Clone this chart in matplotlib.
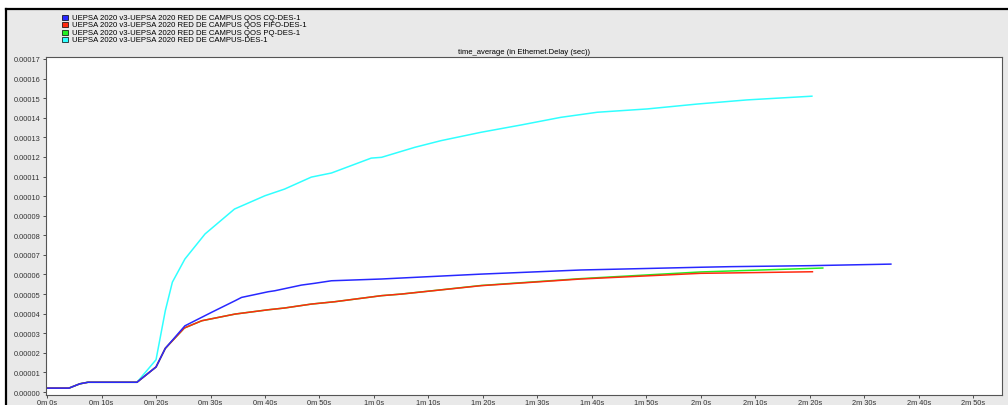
import matplotlib
matplotlib.use("Agg")
from matplotlib import pyplot as plt
from matplotlib.patches import Rectangle

plt.rcParams["font.family"] = ["Liberation Sans", "DejaVu Sans"]

# series labels (OPNET export)
labels = [
    "UEPSA 2020 v3-UEPSA 2020 RED DE CAMPUS QOS CQ-DES-1",
    "UEPSA 2020 v3-UEPSA 2020 RED DE CAMPUS QOS FIFO-DES-1",
    "UEPSA 2020 v3-UEPSA 2020 RED DE CAMPUS QOS PQ-DES-1",
    "UEPSA 2020 v3-UEPSA 2020 RED DE CAMPUS-DES-1",
]
colors = ["#2828ff", "#ff2a10", "#22ee22", "#30ffff"]

# time (s) and delay (in units of 1e-5 s)
t_cq = [0, 4, 6, 7.5, 16.5, 20, 21.7, 25.3, 30.2, 34.5, 35.7, 40.6, 41.8, 46.7,
        49.1, 52.2, 61.4, 65, 79.7, 98, 120, 125.5, 140, 154.9]
v_cq = [0.2, 0.2, 0.42, 0.5, 0.5, 1.28, 2.23, 3.38, 4.07, 4.66, 4.83, 5.12, 5.17, 5.46,
        5.55, 5.68, 5.77, 5.82, 6.02, 6.23, 6.37, 6.40, 6.45, 6.53]

t_fifo = [0, 4, 6, 7.5, 16.5, 20, 21.7, 25.2, 28.4, 34.5, 40.6, 43.6, 48.5, 52.8,
          61.4, 65, 79.7, 98, 120, 125.5, 140.5]
v_fifo = [0.2, 0.2, 0.42, 0.5, 0.5, 1.28, 2.23, 3.27, 3.64, 3.98, 4.2, 4.29, 4.49, 4.61,
          4.92, 5.0, 5.43, 5.77, 6.06, 6.08, 6.14]

t_pq = [0, 4, 6, 7.5, 16.5, 20, 21.7, 25.2, 28.4, 34.5, 40.6, 43.6, 48.5, 52.8,
        61.4, 65, 79.7, 98, 120, 125.5, 142.4]
v_pq = [0.2, 0.2, 0.42, 0.5, 0.5, 1.28, 2.23, 3.27, 3.64, 3.98, 4.2, 4.29, 4.49, 4.61,
        4.92, 5.0, 5.44, 5.79, 6.13, 6.18, 6.33]

t_base = [0, 4, 6, 7.5, 16.5, 20, 21.7, 23, 25.3, 29, 34.4, 40, 43.6, 48.5, 52.2,
          59.5, 61.4, 67.5, 72.3, 79.7, 87, 94.3, 101, 110.2, 119.4, 128.5, 140.4]
v_base = [0.2, 0.2, 0.42, 0.5, 0.5, 1.65, 4.15, 5.61, 6.79, 8.07, 9.34, 10.02, 10.36,
          10.97, 11.18, 11.94, 11.98, 12.49, 12.83, 13.26, 13.63, 14.02, 14.28, 14.45,
          14.70, 14.91, 15.10]

yticks = [i * 1e-5 for i in range(18)]
xticks = list(range(0, 171, 10))
xticklabels = [f"{s // 60}m {s % 60}s" for s in xticks]

W, H = 1008, 406
fig = plt.figure(figsize=(W / 100, H / 100), dpi=100)
fig.patch.set_facecolor("#e9e9e9")

# white margin on top/left, black frame line
fig.patches.append(Rectangle((0, 1 - 10 / H), 1, 10 / H, transform=fig.transFigure,
                             facecolor="white", edgecolor="none", zorder=-10))
fig.patches.append(Rectangle((0, 0), 6 / W, 1, transform=fig.transFigure,
                             facecolor="white", edgecolor="none", zorder=-10))
fig.add_artist(plt.Line2D([6 / W, 1], [1 - 10 / H, 1 - 10 / H], color="black", lw=1.6,
                          transform=fig.transFigure))
fig.add_artist(plt.Line2D([6 / W, 6 / W], [0, 1 - 10 / H], color="black", lw=1.6,
                          transform=fig.transFigure))

ax = fig.add_axes([46 / W, 1 - 396 / H, (1002 - 46) / W, (396 - 58) / H])
ax.set_facecolor("white")

# cyan first, blue on top
ax.plot(t_base, [x * 1e-5 for x in v_base], color=colors[3], lw=1.1)
ax.plot(t_pq, [x * 1e-5 for x in v_pq], color=colors[2], lw=1.1)
ax.plot(t_fifo, [x * 1e-5 for x in v_fifo], color=colors[1], lw=1.1)
ax.plot(t_cq, [x * 1e-5 for x in v_cq], color=colors[0], lw=1.1)

ax.set_xlim(-0.2, 175.3)
ax.set_ylim(-1.5e-6, 1.71e-4)
ax.set_yticks(yticks)
ax.set_yticklabels([f"{y:.5f}" for y in yticks])
ax.set_xticks(xticks)
ax.set_xticklabels(xticklabels)
ax.tick_params(labelsize=5.3, length=2.5, width=0.6, colors="#333333")
ax.tick_params(axis="x", pad=0.5)
ax.tick_params(axis="y", pad=1.5)
for s in ax.spines.values():
    s.set_color("#555555")
    s.set_linewidth(0.8)

ax.set_title("time_average (in Ethernet.Delay (sec))", fontsize=5.5, pad=3)

# legend drawn by hand
for i, (lab, c) in enumerate(zip(labels, colors)):
    yc = 18 + i * 7.6
    fig.patches.append(Rectangle((62 / W, 1 - (yc + 2.5) / H), 6 / W, 5 / H,
                                 transform=fig.transFigure, facecolor=c,
                                 edgecolor="black", lw=0.5))
    fig.text(72 / W, 1 - yc / H, lab, fontsize=5.6, va="center", ha="left")

fig.savefig("out.png", dpi=100)
